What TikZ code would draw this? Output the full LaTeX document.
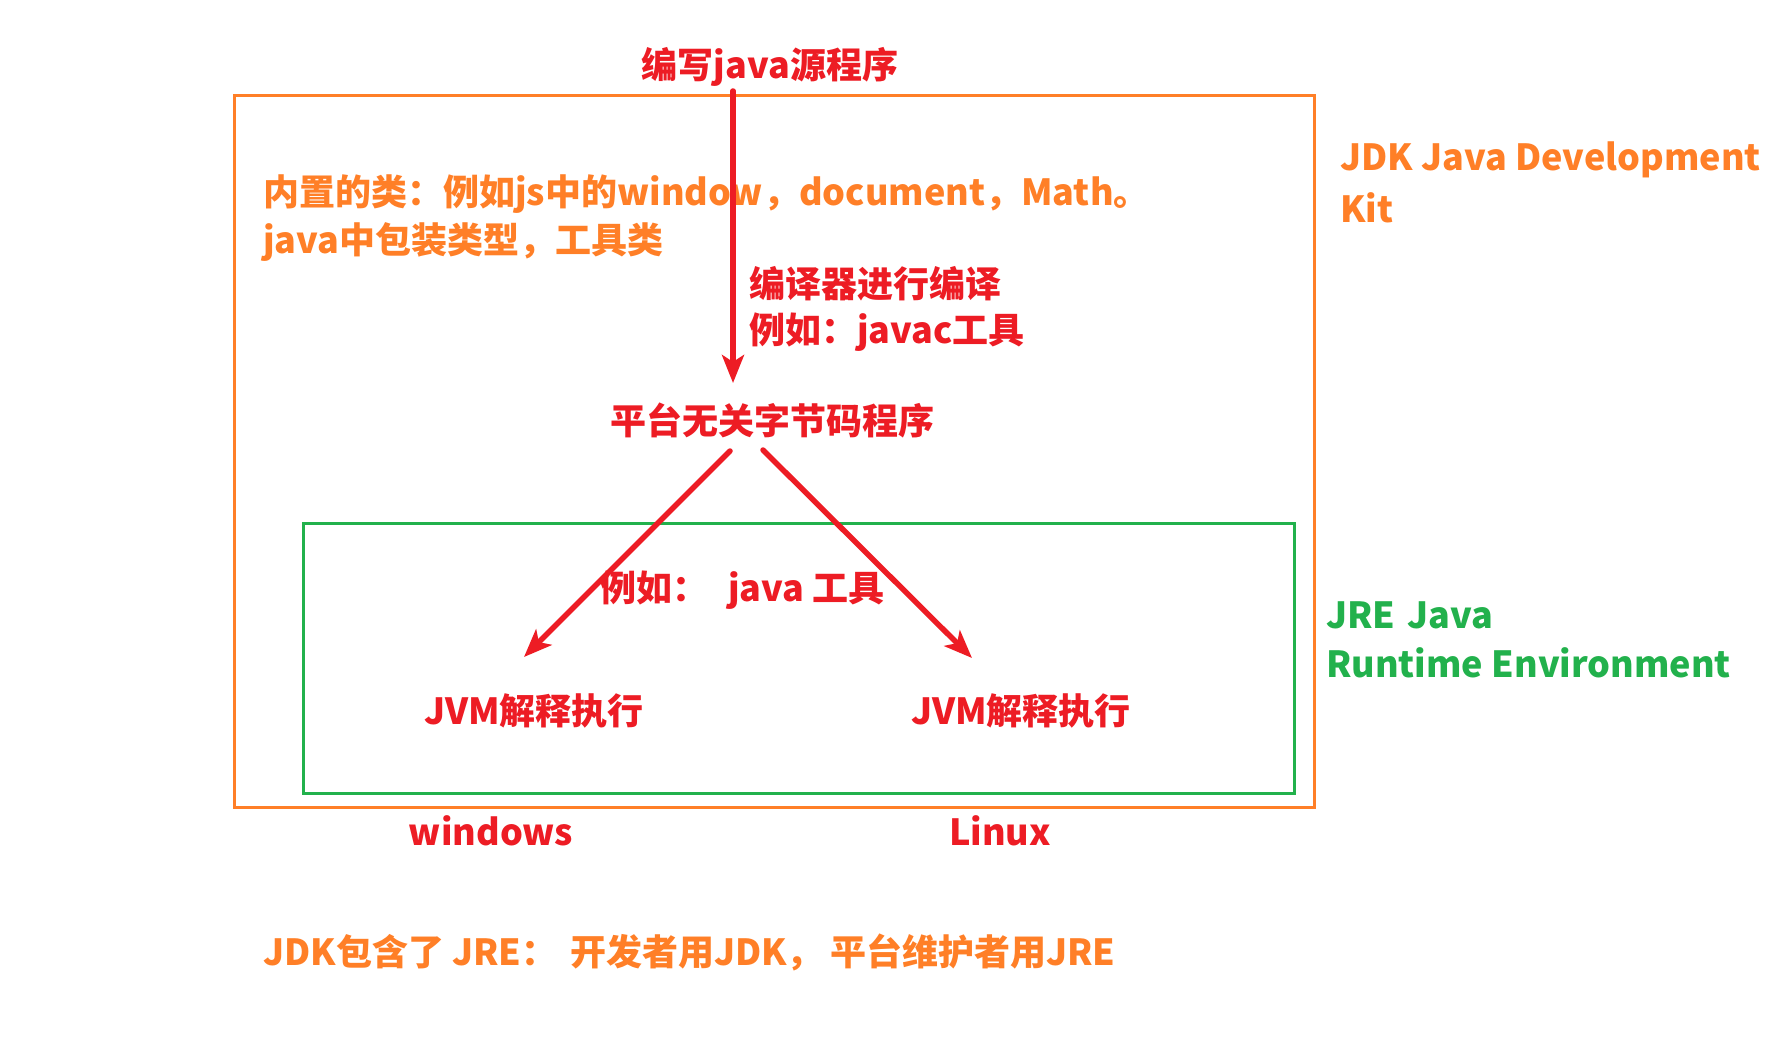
\documentclass[tikz,border=0pt]{standalone}
\usepackage{fontspec}
\setmainfont{Noto Sans CJK SC}
\usetikzlibrary{arrows.meta}
\definecolor{jred}{HTML}{ED1C24}
\definecolor{jorange}{HTML}{FF7F27}
\definecolor{jgreen}{HTML}{22B14C}
\tikzset{
  txt/.style={font=\fontsize{36}{48}\selectfont\bfseries, inner sep=0pt},
  redtxt/.style={txt, text=jred},
  orangetxt/.style={txt, text=jorange},
  greentxt/.style={txt, text=jgreen},
  arr/.style={draw=jred, line width=5.5pt, line cap=round,
    -{Stealth[length=28pt,width=22pt,inset=7pt]}},
}
\begin{document}
\begin{tikzpicture}[x=1pt,y=-1pt]
\useasboundingbox (0,0) rectangle (1792,1049);
\fill[white] (0,0) rectangle (1792,1049);
% boxes
\draw[jorange, line width=3pt] (234,96) rectangle (1314,807);
\draw[jgreen, line width=3pt] (303,523) rectangle (1294,793);
% texts
\node[redtxt] (src) at (770,67) {编写java源程序};
\node[orangetxt, anchor=west] (builtin1) at (263,194) {内置的类：例如js中的window，document，Math。};
\node[orangetxt, anchor=west] (builtin2) at (263,242) {java中包装类型，工具类};
\node[redtxt, anchor=west] (comp1) at (749,284) {编译器进行编译};
\node[redtxt, anchor=west] (comp2) at (749,332) {例如：javac工具};
\node[redtxt] (bc) at (772,420) {平台无关字节码程序};
\node[redtxt, anchor=west] (jtool) at (600,590) {例如：\hspace{0.55em}java 工具};
\node[redtxt] (jvm1) at (534,711) {JVM解释执行};
\node[redtxt] (jvm2) at (1021,711) {JVM解释执行};
\node[redtxt] (win) at (491,831) {windows};
\node[redtxt] (lin) at (1000,831) {Linux};
\node[orangetxt, anchor=west] (jdk1) at (1340,160) {JDK Java Development};
\node[orangetxt, anchor=west] (jdk2) at (1340,208) {Kit};
\node[greentxt, anchor=west] (jre1) at (1326,615) {JRE\hspace{0.1em} Java};
\node[greentxt, anchor=west] (jre2) at (1326,663) {Runtime Environment};
\node[orangetxt, anchor=west] (note) at (263,952) {JDK包含了 JRE：\hspace{0.35em}开发者用JDK，\hspace{0.2em}平台维护者用JRE};
% arrow endpoints
\coordinate (a0) at (733,91);
\coordinate (a1) at (733,383);
\coordinate (l0) at (730,451);
\coordinate (l1) at (524,657);
\coordinate (r0) at (763,450);
\coordinate (r1) at (972,658);
\draw[arr] (a0) -- (a1);
\draw[arr] (l0) -- (l1);
\draw[arr] (r0) -- (r1);
\end{tikzpicture}
\end{document}
